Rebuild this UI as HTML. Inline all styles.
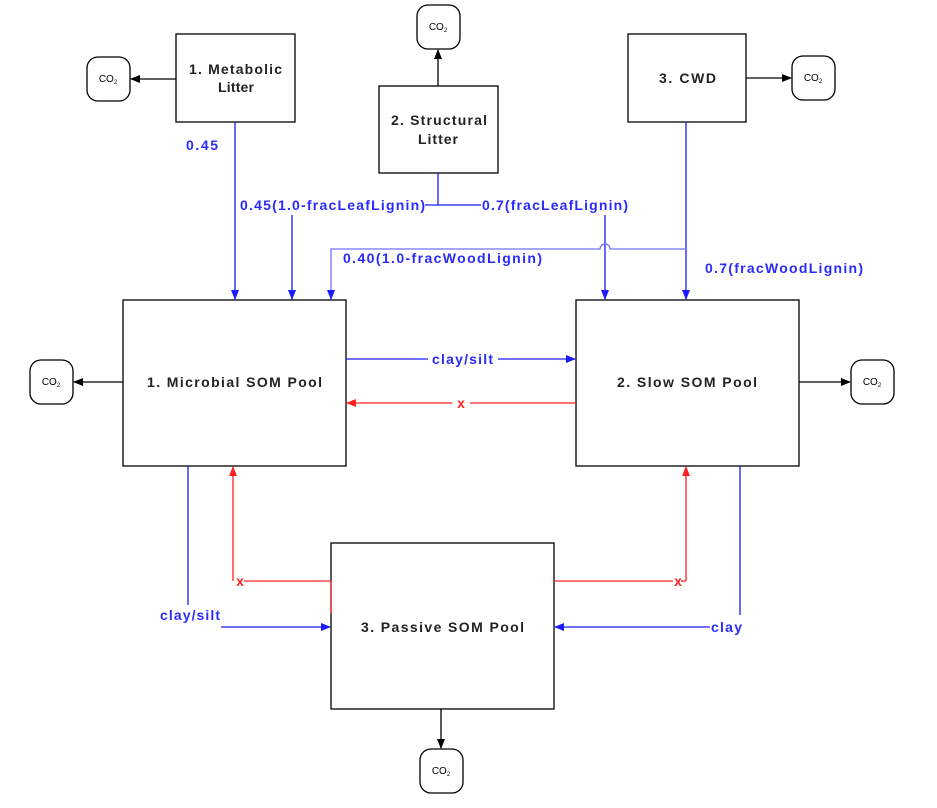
<!DOCTYPE html>
<html><head><meta charset="utf-8"><style>body{margin:0;background:#fff}svg{display:block}</style></head><body>
<svg width="937" height="808" xmlns="http://www.w3.org/2000/svg" font-family="Liberation Sans, Arial, sans-serif" font-weight="bold" font-size="14">
<defs>
<marker id="ab" markerWidth="10" markerHeight="8" refX="9" refY="4" orient="auto" markerUnits="userSpaceOnUse"><path d="M0,0 L10,4 L0,8 z" fill="#1a1aff"/></marker>
<marker id="ar" markerWidth="10" markerHeight="8" refX="9" refY="4" orient="auto" markerUnits="userSpaceOnUse"><path d="M0,0 L10,4 L0,8 z" fill="#ff2020"/></marker>
<marker id="ak" markerWidth="10" markerHeight="8" refX="9" refY="4" orient="auto" markerUnits="userSpaceOnUse"><path d="M0,0 L10,4 L0,8 z" fill="#000"/></marker>
</defs>
<g fill="#fff" stroke="#000" stroke-width="1.3">
<rect x="176" y="34" width="119" height="88"/>
<rect x="379" y="86" width="119" height="87"/>
<rect x="628" y="34" width="118" height="88"/>
<rect x="123" y="300" width="223" height="166"/>
<rect x="576" y="300" width="223" height="166"/>
<rect x="331" y="543" width="223" height="166"/>
<rect x="87" y="57" width="43" height="44" rx="11"/>
<rect x="417" y="5" width="43" height="44" rx="11"/>
<rect x="792" y="56" width="43" height="44" rx="11"/>
<rect x="30" y="360" width="43" height="44" rx="11"/>
<rect x="851" y="360" width="43" height="44" rx="11"/>
<rect x="420" y="749" width="43" height="44" rx="11"/>
</g>
<g font-size="10" font-weight="normal" text-anchor="middle" fill="#000">
<text x="108" y="82">CO<tspan font-size="6" dy="2">2</tspan></text>
<text x="438" y="30">CO<tspan font-size="6" dy="2">2</tspan></text>
<text x="813" y="81">CO<tspan font-size="6" dy="2">2</tspan></text>
<text x="51" y="385">CO<tspan font-size="6" dy="2">2</tspan></text>
<text x="872" y="385">CO<tspan font-size="6" dy="2">2</tspan></text>
<text x="441" y="774">CO<tspan font-size="6" dy="2">2</tspan></text>
</g>
<g fill="#222" lengthAdjust="spacingAndGlyphs">
<text x="189" y="74" textLength="93">1. Metabolic</text><text x="218" y="92" textLength="36">Litter</text>
<text x="391" y="125" textLength="96">2. Structural</text><text x="418" y="144" textLength="40">Litter</text>
<text x="659" y="83" textLength="57">3. CWD</text>
<text x="147" y="387" textLength="175">1. Microbial SOM Pool</text>
<text x="617" y="387" textLength="140">2. Slow SOM Pool</text>
<text x="361" y="632" textLength="163">3. Passive SOM Pool</text>
</g>
<g stroke="#000" stroke-width="1.3" fill="none" marker-end="url(#ak)">
<line x1="176" y1="79" x2="131" y2="79"/>
<line x1="438" y1="86" x2="438" y2="50"/>
<line x1="746" y1="78" x2="791" y2="78"/>
<line x1="123" y1="382" x2="74" y2="382"/>
<line x1="799" y1="382" x2="850" y2="382"/>
<line x1="441" y1="709" x2="441" y2="748"/>
</g>
<g stroke="#1a1aff" stroke-width="1.3" fill="none">
<line x1="235" y1="122" x2="235" y2="299" marker-end="url(#ab)"/>
<line x1="438" y1="173" x2="438" y2="205"/>
<line x1="425" y1="205" x2="481" y2="205"/>
<line x1="292" y1="215" x2="292" y2="299" marker-end="url(#ab)"/>
<line x1="605" y1="215" x2="605" y2="299" marker-end="url(#ab)"/>
<line x1="686" y1="122" x2="686" y2="299" marker-end="url(#ab)"/>
<path d="M686,249 L610,249 A5,5 0 0 0 600,249 L331,249 L331,299" stroke="#7070ff" marker-end="url(#ab)"/>
<line x1="346" y1="359" x2="575" y2="359" marker-end="url(#ab)"/>
<line x1="188" y1="466" x2="188" y2="605"/>
<line x1="221" y1="627" x2="330" y2="627" marker-end="url(#ab)"/>
<line x1="740" y1="466" x2="740" y2="615"/>
<line x1="710" y1="627" x2="555" y2="627" marker-end="url(#ab)"/>
</g>
<g stroke="#ff2020" stroke-width="1.3" fill="none">
<line x1="576" y1="403" x2="347" y2="403" marker-end="url(#ar)"/>
<line x1="244" y1="581" x2="331" y2="581"/>
<line x1="331" y1="581" x2="331" y2="613"/>
<line x1="233" y1="581" x2="233" y2="467" marker-end="url(#ar)"/>
<line x1="554" y1="581" x2="673" y2="581"/>
<line x1="686" y1="581" x2="686" y2="467" marker-end="url(#ar)"/>
<line x1="681" y1="581" x2="686" y2="581"/>
</g>
<rect x="452" y="396" width="18" height="14" fill="#fff"/>
<rect x="428" y="352" width="70" height="14" fill="#fff"/>
<g fill="#ff2020" text-anchor="middle">
<text x="461" y="408">x</text>
<text x="240" y="586">x</text>
<text x="678" y="586">x</text>
</g>
<g fill="#2a2aff" lengthAdjust="spacingAndGlyphs">
<text x="186" y="150" textLength="32">0.45</text>
<text x="240" y="210" textLength="185">0.45(1.0-fracLeafLignin)</text>
<text x="482" y="210" textLength="146">0.7(fracLeafLignin)</text>
<text x="343" y="263" textLength="199">0.40(1.0-fracWoodLignin)</text>
<text x="705" y="273" textLength="158">0.7(fracWoodLignin)</text>
<text x="432" y="364" textLength="61">clay/silt</text>
<text x="160" y="620" textLength="60">clay/silt</text>
<text x="711" y="632" textLength="31">clay</text>
</g>
</svg>
</body></html>
